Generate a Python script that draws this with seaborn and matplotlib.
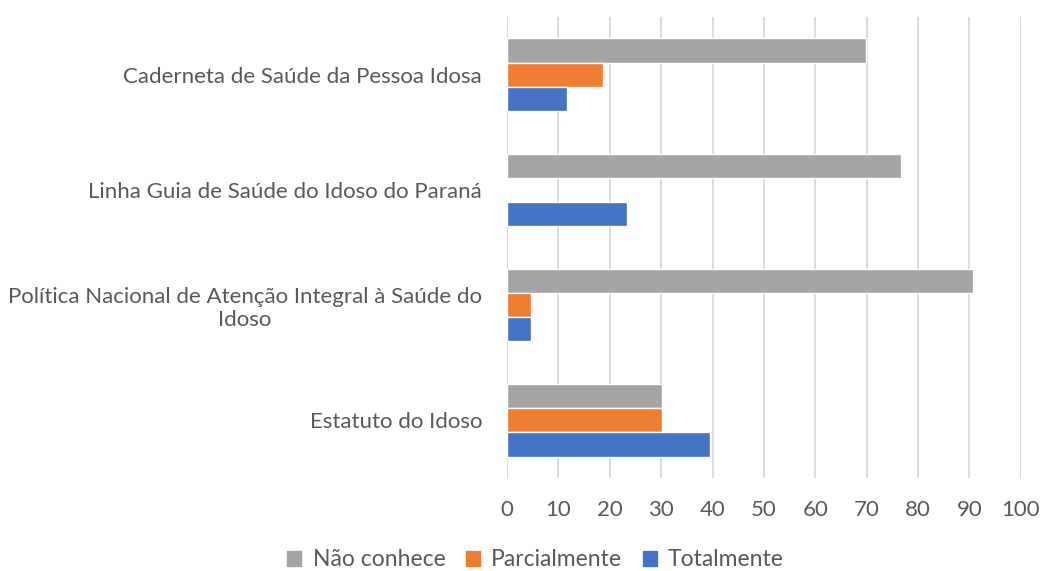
import pandas as pd
import matplotlib.pyplot as plt
import seaborn as sns

categories = ["Caderneta de Saúde da Pessoa Idosa",
              "Linha Guia de Saúde do Idoso do Paraná",
              "Política Nacional de Atenção Integral à Saúde do\nIdoso",
              "Estatuto do Idoso"]
series = ["Não conhece", "Parcialmente", "Totalmente"]
nao_conhece = [69.8, 76.7, 90.7, 30.2]
parcialmente = [18.6, 0.0, 4.65, 30.2]
totalmente = [11.6, 23.3, 4.65, 39.5]
colors = ["#A5A5A5", "#ED7D31", "#4472C4"]

rows = []
for cat, a, b, c in zip(categories, nao_conhece, parcialmente, totalmente):
    rows.append((cat, series[0], a))
    rows.append((cat, series[1], b))
    rows.append((cat, series[2], c))
df = pd.DataFrame(rows, columns=["categoria", "resposta", "valor"])

sns.set_style("white")
plt.rcParams['font.family'] = ['Lato', 'DejaVu Sans']
text_color = "#595959"

fig = plt.figure(figsize=(10.4, 5.71), dpi=100)
ax = fig.add_axes([0.4875, 0.163, 0.494, 0.807])
sns.barplot(data=df, y="categoria", x="valor", hue="resposta",
            order=categories, hue_order=series, palette=colors,
            orient="h", width=0.63, saturation=1, ax=ax, legend=False)

ax.set_xlim(0, 100)
ax.set_xticks(range(0, 101, 10))
ax.grid(axis="x", color="#D9D9D9", linewidth=1.3)
ax.set_axisbelow(True)
for s in ax.spines.values():
    s.set_visible(False)
ax.set_xlabel("")
ax.set_ylabel("")
ax.tick_params(axis="both", length=0, labelsize=16, colors=text_color)
ax.tick_params(axis="x", pad=16)
ax.tick_params(axis="y", pad=18)
for lab in ax.get_yticklabels():
    lab.set_multialignment("center")

handles = [plt.Rectangle((0, 0), 1, 1, color=c) for c in colors]
fig.legend(handles, series, loc="lower center", bbox_to_anchor=(0.515, -0.035),
           ncol=3, frameon=False, fontsize=16.5, handlelength=0.6,
           handleheight=0.6, handletextpad=0.5, columnspacing=0.9,
           labelcolor=text_color)

fig.savefig("out.png", dpi=100)
